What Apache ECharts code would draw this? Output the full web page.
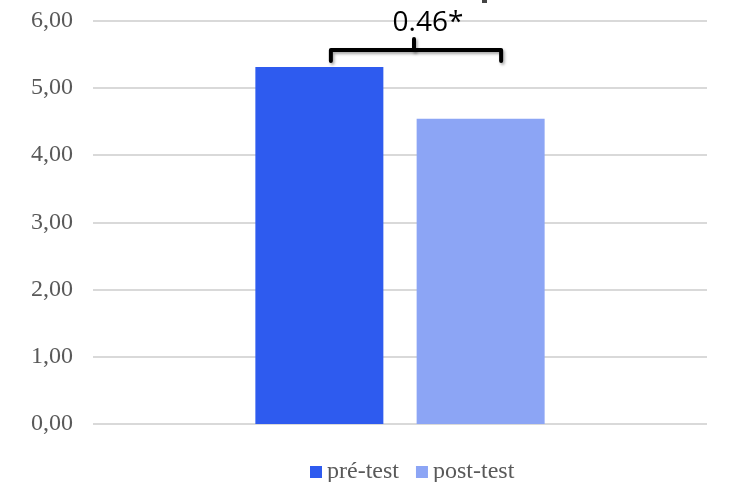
<!DOCTYPE html>
<html>
<head>
<meta charset="utf-8">
<script src="https://cdn.jsdelivr.net/npm/echarts@6/dist/echarts.min.js"></script>
<style>
  html, body { margin: 0; padding: 0; background: #ffffff; }
  #chart { width: 732px; height: 482px; }
</style>
</head>
<body>
<div id="chart"></div>
<script>
// Mean scores before and after the intervention
const categories = [''];
const seriesNames = ['pré-test', 'post-test'];
const preTest = [5.31];
const postTest = [4.54];
const differenceLabel = '0.46*';
const yTicks = { min: 0, max: 6, interval: 1 };

const colors = ['#2E5BEF', '#8CA5F5'];
const serif = '"Liberation Serif", "DejaVu Serif", serif';

const chart = echarts.init(document.getElementById('chart'), null, { renderer: 'canvas' });

chart.setOption({
  animation: false,
  backgroundColor: '#ffffff',
  grid: { left: 93, right: 25, top: 20.5, bottom: 58, containLabel: false },
  legend: {
    data: seriesNames,
    top: 455,
    left: 305,
    itemWidth: 12,
    itemHeight: 12,
    itemGap: 17,
    icon: 'rect',
    textStyle: { fontFamily: serif, fontSize: 24, color: '#595959' }
  },
  xAxis: {
    type: 'category',
    data: categories,
    axisLine: { show: false },
    axisTick: { show: false },
    axisLabel: { show: false }
  },
  yAxis: {
    type: 'value',
    min: yTicks.min,
    max: yTicks.max,
    interval: yTicks.interval,
    axisLine: { show: false },
    axisTick: { show: false },
    axisLabel: {
      margin: 20,
      fontFamily: serif,
      fontSize: 24,
      color: '#595959',
      formatter: v => v.toFixed(2).replace('.', ',')
    },
    splitLine: { lineStyle: { color: '#D9D9D9', width: 2 } }
  },
  series: [
    { name: seriesNames[0], type: 'bar', data: preTest, barWidth: 128, barGap: '26%', itemStyle: { color: colors[0] } },
    { name: seriesNames[1], type: 'bar', data: postTest, barWidth: 128, itemStyle: { color: colors[1] } }
  ]
});

// Significance bracket anchored to the laid-out bars
function drawBracket() {
  const l1 = chart.getModel().getSeriesByIndex(0).getData().getItemLayout(0);
  const l2 = chart.getModel().getSeriesByIndex(1).getData().getItemLayout(0);
  const topY = Math.min(l1.y, l1.y + l1.height);
  const left = l1.x + l1.width * 0.59;
  const right = l2.x + l2.width * 0.66;
  const mid = (left + right) / 2 - 2;
  const barY = topY - 17;
  const endY = topY - 6;
  const strokeStyle = {
    stroke: '#000000',
    lineWidth: 4,
    lineCap: 'round',
    lineJoin: 'round',
    shadowColor: 'rgba(0,0,0,0.35)',
    shadowBlur: 3,
    shadowOffsetX: 1.5,
    shadowOffsetY: 2
  };

  chart.setOption({
    graphic: [
      {
        type: 'polyline',
        shape: { points: [[left, endY], [left, barY], [right, barY], [right, endY]] },
        style: Object.assign({ fill: null }, strokeStyle),
        z: 10
      },
      {
        type: 'line',
        shape: { x1: mid, y1: barY, x2: mid, y2: barY - 11 },
        style: strokeStyle,
        z: 10
      },
      {
        type: 'text',
        x: mid + 14,
        y: barY - 27,
        style: {
          text: differenceLabel,
          fontFamily: '"Open Sans", Lato, sans-serif',
          fontSize: 28,
          fill: '#000000',
          align: 'center',
          verticalAlign: 'middle'
        },
        z: 10
      },
      {
        type: 'rect',
        shape: { x: 482, y: 0, width: 5, height: 3 },
        style: { fill: '#444444' },
        z: 10
      }
    ]
  });
}
drawBracket();
</script>
</body>
</html>
